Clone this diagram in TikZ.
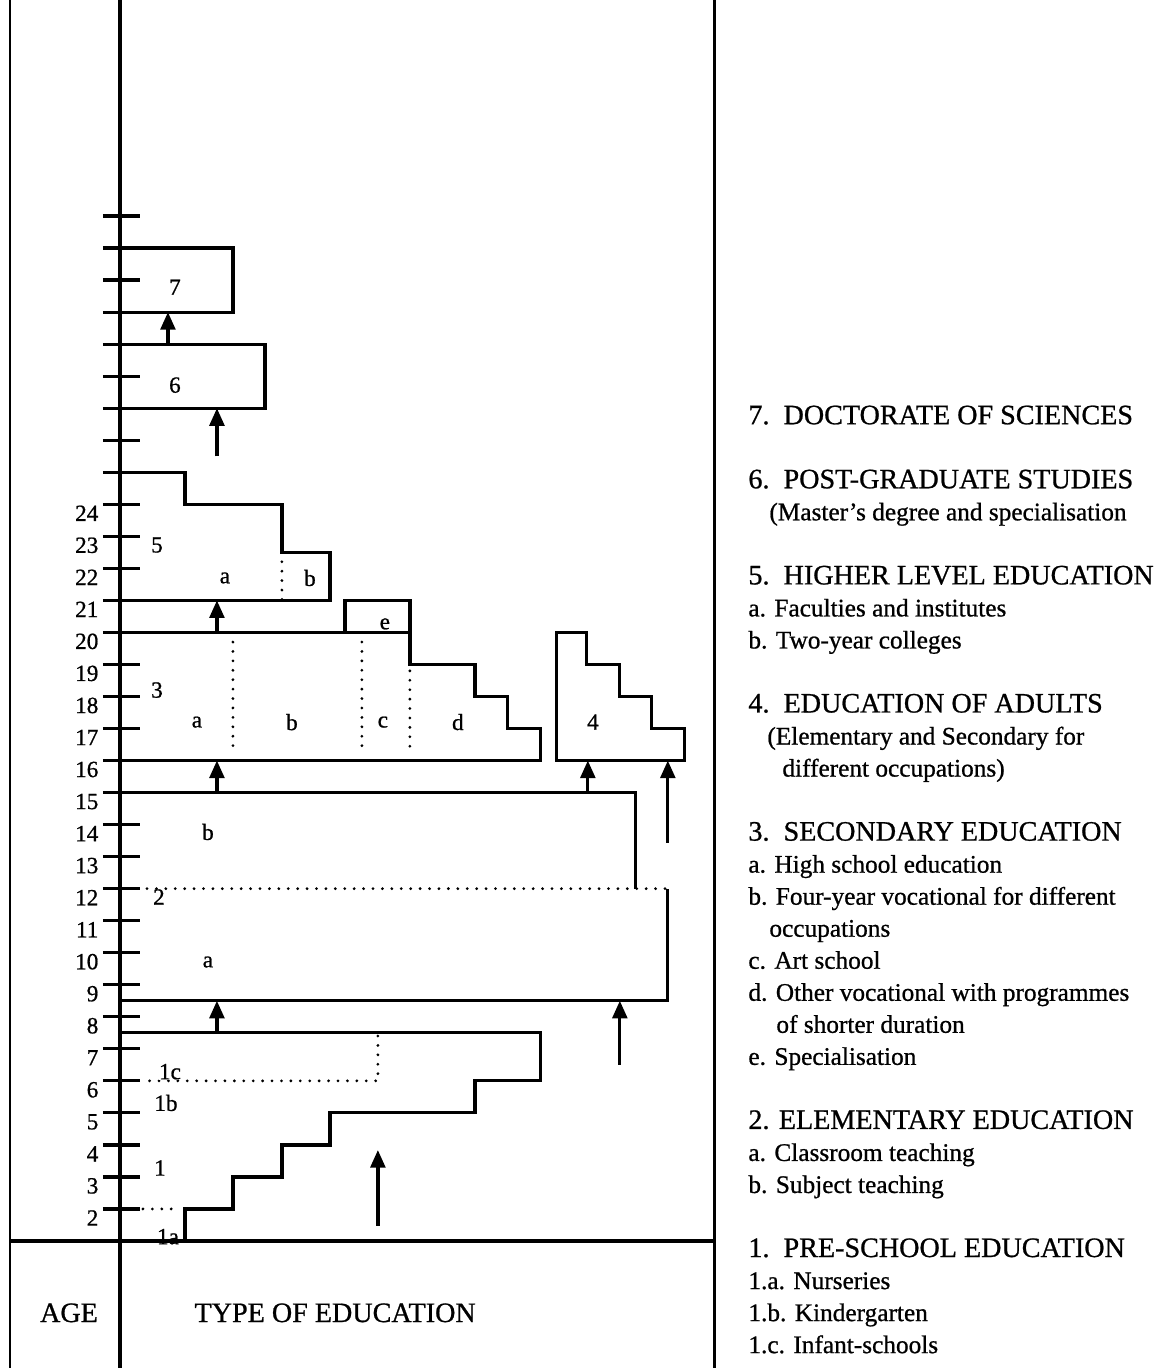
\documentclass[tikz,border=0pt]{standalone}
\usepackage{fontspec}
\setmainfont{Liberation Serif}[FakeBold=0.8]
\usetikzlibrary{arrows.meta}
\begin{document}
\begin{tikzpicture}[x=0.025cm, y=0.80075cm, line width=2.3pt,
    up/.style={-{Triangle[width=10.5pt,length=12.5pt]}},
    dots/.style={line width=2.2pt, line cap=round, dash pattern=on 0pt off 6.7pt},
    lbl/.style={font=\fontsize{16.5}{19}\selectfont, inner sep=0pt},
    head/.style={font=\fontsize{20}{24}\selectfont, anchor=base west, inner sep=0pt},
    item/.style={font=\fontsize{18}{22}\selectfont, anchor=base west, inner sep=0pt}]
  \useasboundingbox (0,-2.965) rectangle (1176,39.745);
  % label cut by the base line, so it goes first
  \node[lbl, anchor=base] (laba) at (168,0.9) {1a};
  % frame, age axis and ticks
  \draw[line width=1.6pt] (10,-2.965) -- (10,39.745);
  \draw[line width=2pt] (715,-2.965) -- (715,39.745);
  \draw (120,-2.965) -- (120,39.745);
  \draw (10,1) -- (715,1);
  \foreach \a in {2,...,33} \draw (103,\a) -- (140,\a);
  \foreach \a in {2,...,24} \node[lbl, anchor=east] (age\a) at (100,\a-0.28) {\a};
  % levels of education
  \draw (120,32) -| (233,30) -- (120,30);
  \draw (120,29) -| (265,27) -- (120,27);
  \draw (120,25) -| (185,24) -| (282,22.5) -| (330,21) -- (120,21);
  \draw[dots] (282,22.5) -- (282,21);
  \draw (120,20) -| (345,21) -| (410,19) -| (475,18) -| (508,17) -| (541,16) -- (120,16);
  \draw (345,20) -- (410,20);
  \draw[dots] (233,19.7) -- (233,16.3);
  \draw[dots] (362,19.7) -- (362,16.3);
  \draw[dots] (410,18.8) -- (410,16.3);
  \draw (557,16) |- (587,20) |- (620,19) |- (652,18) |- (685,17) -- (685,16) -- cycle;
  \draw (120,15) -| (636,12);
  \draw (120,8.5) -| (668,12);
  \draw[dots] (147,12) -- (668,12);
  \draw (120,7.5) -| (541,6) -| (475,5) -| (330,4) -| (282,3) -| (233,2) -| (185,1);
  \draw[dots] (378,7.4) -- (378,6) -- (148,6);
  \draw[dots] (143,2) -- (178,2);
  % labels in the chart
  \foreach \x/\y/\t [count=\i] in {175/30.78/7, 175/27.72/6, 157/22.73/5, 225/21.7/a, 310/21.7/b,
      157/18.2/3, 197/17.2/a, 292/17.2/b, 383/17.2/c, 458/17.2/d, 593/17.2/4,
      208/13.77/b, 159/11.74/2, 208/9.71/a, 166/5.31/1b, 160/3.28/1}
    \node[lbl] (lab\i) at (\x,\y) {\t};
  \node[lbl, anchor=base] (labe) at (385,20.1) {e};
  \node[lbl, anchor=base, fill=white, inner sep=0.3pt] (labc) at (170,6.05) {1c};
  % transitions
  \foreach \n/\x/\f/\t in {a/168/29/30, b/217/25.5/27, c/217/20/21, d/217/15/16, e/588/15/16,
      f/668/13.43/16, g/217/7.5/8.5, h/620/6.5/8.5, i/378/1.47/3.84} {
    \coordinate (from\n) at (\x,\f);
    \coordinate (to\n) at (\x,\t);
    \draw[up] (from\n) -- (to\n);
  }
  % bottom captions
  \node[head, anchor=base] (agecap) at (69,-1.53) {AGE};
  \node[head] (typecap) at (193,-1.53) {TYPE OF EDUCATION};
  % legend
  \foreach \y/\t [count=\i] in {26.5/{7.\ \ DOCTORATE OF SCIENCES}, 24.5/{6.\ \ POST-GRADUATE STUDIES},
      21.5/{5.\ \ HIGHER LEVEL EDUCATION}, 17.5/{4.\ \ EDUCATION OF ADULTS},
      13.5/{3.\ \ SECONDARY EDUCATION}, 4.5/{2. ELEMENTARY EDUCATION},
      0.5/{1.\ \ PRE-SCHOOL EDUCATION}}
    \node[head] (head\i) at (747,\y) {\t};
  \foreach \y/\x/\t [count=\i] in {23.5/768/{(Master’s degree and specialisation},
      20.5/747/{a. Faculties and institutes}, 19.5/747/{b. Two-year colleges},
      16.5/766/{(Elementary and Secondary for}, 15.5/781/{different occupations)},
      12.5/747/{a. High school education}, 11.5/747/{b. Four-year vocational for different},
      10.5/768/{occupations}, 9.5/747/{c. Art school},
      8.5/747/{d. Other vocational with programmes}, 7.5/775/{of shorter duration},
      6.5/747/{e. Specialisation}, 3.5/747/{a. Classroom teaching},
      2.5/747/{b. Subject teaching}, -0.5/747/{1.a. Nurseries},
      -1.5/747/{1.b. Kindergarten}, -2.5/747/{1.c. Infant-schools}}
    \node[item] (item\i) at (\x,\y) {\t};
\end{tikzpicture}
\end{document}
